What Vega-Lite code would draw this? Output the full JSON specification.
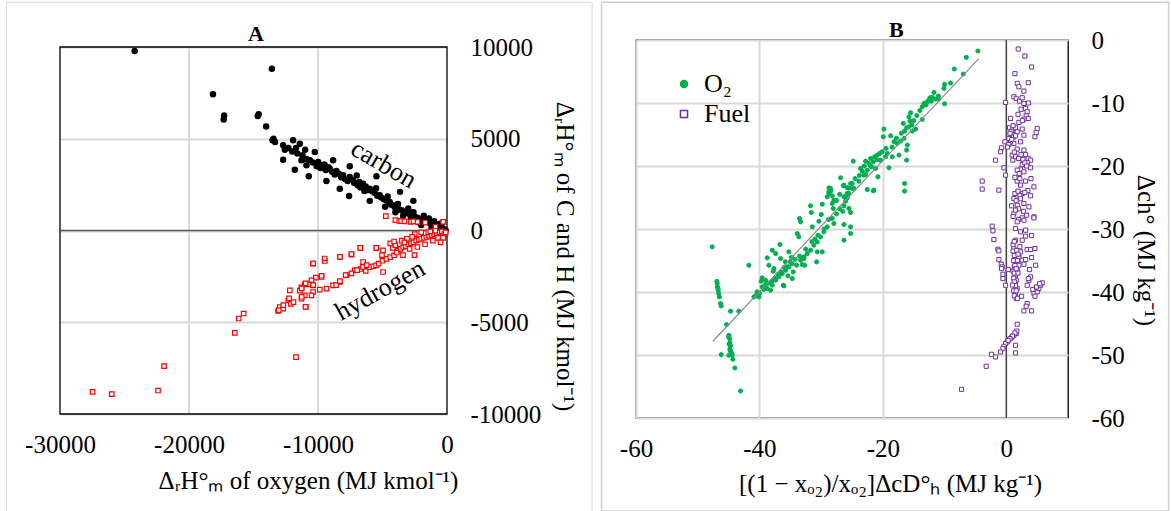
{
"$schema":"https://vega.github.io/schema/vega-lite/v6.json",
"background":"white",
"padding":{"left":6,"top":0,"right":0,"bottom":0},
"spacing":7,
"resolve":{"legend":{"fill":"independent","stroke":"independent","shape":"independent"}},
"config":{
"font":"Liberation Serif",
"view":{"stroke":"black","strokeWidth":1.3},
"axis":{"labelFont":"Liberation Serif","titleFont":"Liberation Serif","labelFontSize":25,"titleFontSize":25,"labelColor":"#000","titleColor":"#000","titleFontWeight":"normal","ticks":false,"domain":false,"grid":true,"gridColor":"#d9d9d9","gridWidth":2,"gridOpacity":1,"labelFlush":false,"labelOverlap":false,"labelBound":false}
},
"datasets":{
"carbon":[{"x":-24216,"y":9783},{"x":-13575,"y":8821},{"x":-18140,"y":7423},{"x":-17280,"y":6262},{"x":-17310,"y":6046},{"x":-14672,"y":6244},{"x":-14600,"y":6330},{"x":-14020,"y":5663},{"x":-13525,"y":4916},{"x":-13325,"y":4824},{"x":-13450,"y":5000},{"x":-12703,"y":4643},{"x":-11929,"y":4916},{"x":-12572,"y":4404},{"x":-11410,"y":4731},{"x":-12703,"y":3859},{"x":-11797,"y":3314},{"x":-10713,"y":2954},{"x":-10248,"y":4278},{"x":-11281,"y":3826},{"x":-10894,"y":3553},{"x":-10635,"y":3826},{"x":-9990,"y":3733},{"x":-9345,"y":2698},{"x":-8830,"y":3826},{"x":-8311,"y":2278},{"x":-7590,"y":1880},{"x":-7537,"y":3499},{"x":-5469,"y":2954},{"x":-9605,"y":3553},{"x":-9086,"y":3368},{"x":-8567,"y":3243},{"x":-8056,"y":3008},{"x":-7537,"y":2916},{"x":-7018,"y":2551},{"x":-6506,"y":2551},{"x":-5988,"y":2278},{"x":-5213,"y":1918},{"x":-4439,"y":1553},{"x":-4051,"y":1281},{"x":-12300,"y":4500},{"x":-12000,"y":4300},{"x":-11600,"y":4200},{"x":-11200,"y":4100},{"x":-10900,"y":3900},{"x":-10400,"y":3700},{"x":-10100,"y":3500},{"x":-9800,"y":3400},{"x":-9400,"y":3300},{"x":-9200,"y":3450},{"x":-8900,"y":3200},{"x":-8700,"y":3050},{"x":-8400,"y":3100},{"x":-8200,"y":2900},{"x":-7900,"y":2800},{"x":-7700,"y":2700},{"x":-7300,"y":2750},{"x":-7200,"y":2600},{"x":-6900,"y":2450},{"x":-6700,"y":2350},{"x":-6300,"y":2400},{"x":-6100,"y":2200},{"x":-5800,"y":2150},{"x":-5600,"y":2050},{"x":-5400,"y":1900},{"x":-5100,"y":1800},{"x":-4900,"y":1700},{"x":-4700,"y":1650},{"x":-4500,"y":1450},{"x":-4300,"y":1400},{"x":-4100,"y":1350},{"x":-3900,"y":1200},{"x":-3700,"y":1150},{"x":-3500,"y":1100},{"x":-3300,"y":1000},{"x":-3100,"y":950},{"x":-2900,"y":900},{"x":-2700,"y":800},{"x":-2500,"y":750},{"x":-2300,"y":700},{"x":-2100,"y":600},{"x":-1900,"y":550},{"x":-1700,"y":500},{"x":-1500,"y":450},{"x":-1300,"y":400},{"x":-1100,"y":300},{"x":-900,"y":250},{"x":-700,"y":200},{"x":-500,"y":150},{"x":-300,"y":100},{"x":-100,"y":0},{"x":-200,"y":50},{"x":-3646,"y":2105},{"x":-2608,"y":1615},{"x":-5987,"y":1615},{"x":-4800,"y":1300},{"x":-4000,"y":1000},{"x":-3400,"y":800},{"x":-2800,"y":700},{"x":-2600,"y":1000},{"x":-2200,"y":450},{"x":-1800,"y":800},{"x":-1400,"y":650},{"x":-1000,"y":500},{"x":-600,"y":350},{"x":-400,"y":400},{"x":-1200,"y":150},{"x":-2000,"y":300},{"x":-3000,"y":1200},{"x":-3800,"y":1450},{"x":-4600,"y":1850},{"x":-6400,"y":2150},{"x":-6800,"y":2650},{"x":-5500,"y":2300},{"x":-9500,"y":3600},{"x":-11000,"y":4400},{"x":-11700,"y":4500},{"x":-7000,"y":3000}],
"hydrogen":[{"x":-27471,"y":-8791},{"x":-25986,"y":-8916},{"x":-22403,"y":-8720},{"x":-21929,"y":-7390},{"x":-11707,"y":-6900},{"x":-16447,"y":-5575},{"x":-16150,"y":-4796},{"x":-15763,"y":-4524},{"x":-4742,"y":780},{"x":-4001,"y":563},{"x":-3700,"y":520},{"x":-3557,"y":508},{"x":-3300,"y":500},{"x":-2816,"y":472},{"x":-2600,"y":500},{"x":-2282,"y":472},{"x":-1690,"y":436},{"x":-889,"y":200},{"x":-296,"y":472},{"x":-10379,"y":-1809},{"x":-9473,"y":-1662},{"x":-8311,"y":-1444},{"x":-7405,"y":-1318},{"x":-6708,"y":-954},{"x":-5469,"y":-954},{"x":-4957,"y":-1082},{"x":-4400,"y":-700},{"x":-4200,"y":-950},{"x":-4000,"y":-800},{"x":-6506,"y":-1717},{"x":-6700,"y":-2100},{"x":-6300,"y":-2200},{"x":-6000,"y":-2000},{"x":-5700,"y":-1950},{"x":-5500,"y":-1900},{"x":-5300,"y":-1800},{"x":-5000,"y":-1650},{"x":-4700,"y":-1550},{"x":-4400,"y":-1450},{"x":-4100,"y":-1350},{"x":-4957,"y":-2262},{"x":-7157,"y":-2169},{"x":-7793,"y":-2442},{"x":-8311,"y":-2806},{"x":-8830,"y":-2987},{"x":-9345,"y":-3172},{"x":-9861,"y":-3226},{"x":-10379,"y":-3352},{"x":-9729,"y":-2534},{"x":-10170,"y":-2572},{"x":-10503,"y":-2714},{"x":-10635,"y":-2932},{"x":-11023,"y":-2932},{"x":-11281,"y":-3100},{"x":-11410,"y":-3280},{"x":-10379,"y":-2987},{"x":-10508,"y":-3532},{"x":-11023,"y":-3532},{"x":-11281,"y":-3717},{"x":-12185,"y":-3259},{"x":-12300,"y":-3800},{"x":-12100,"y":-4000},{"x":-11900,"y":-3900},{"x":-12960,"y":-4169},{"x":-12703,"y":-4262},{"x":-13090,"y":-4387},{"x":-10945,"y":-4169},{"x":-13042,"y":-4338},{"x":-12686,"y":-4066},{"x":-12241,"y":-3703},{"x":-11263,"y":-3612},{"x":-10967,"y":-4156},{"x":-11263,"y":-3158},{"x":-10967,"y":-2886},{"x":-10374,"y":-2977},{"x":-9722,"y":-2468},{"x":-9485,"y":-1525},{"x":-10374,"y":-1797},{"x":-8596,"y":-2977},{"x":-8299,"y":-2759},{"x":-7855,"y":-2432},{"x":-7410,"y":-2341},{"x":-6966,"y":-2160},{"x":-6521,"y":-1978},{"x":-6225,"y":-1888},{"x":-8299,"y":-1434},{"x":-7410,"y":-1289},{"x":-6728,"y":-944},{"x":-5483,"y":-944},{"x":-5039,"y":-1343},{"x":-3409,"y":-1343},{"x":-2519,"y":-1343},{"x":-3800,"y":-1100},{"x":-3600,"y":-1000},{"x":-3400,"y":-900},{"x":-3200,"y":-850},{"x":-3000,"y":-750},{"x":-2800,"y":-700},{"x":-2600,"y":-650},{"x":-2400,"y":-550},{"x":-2200,"y":-500},{"x":-2000,"y":-450},{"x":-1800,"y":-400},{"x":-1600,"y":-350},{"x":-1400,"y":-300},{"x":-1200,"y":-250},{"x":-1000,"y":-200},{"x":-800,"y":-150},{"x":-600,"y":-100},{"x":-400,"y":-50},{"x":-200,"y":-200},{"x":-300,"y":-400},{"x":-100,"y":-100},{"x":-1500,"y":-100},{"x":-1800,"y":-150},{"x":-2500,"y":-200},{"x":-3100,"y":-450},{"x":-3500,"y":-550},{"x":-4100,"y":-600},{"x":-2900,"y":-1000},{"x":-2300,"y":-900},{"x":-1700,"y":-750},{"x":-1100,"y":-550},{"x":-700,"y":-400},{"x":-500,"y":-650},{"x":-1300,"y":-50},{"x":-900,"y":0},{"x":-2700,"y":-350},{"x":-3300,"y":-650},{"x":-3900,"y":-1200},{"x":-2000,"y":-100}],
"panelB":[{"g":"O₂","x":-4.6,"y":-1.75},{"g":"O₂","x":-6.48,"y":-2.76},{"g":"O₂","x":-8.43,"y":-4.61},{"g":"O₂","x":-6.97,"y":-5.41},{"g":"O₂","x":-9.02,"y":-6.84},{"g":"O₂","x":-10.0,"y":-7.05},{"g":"O₂","x":-10.1,"y":-7.68},{"g":"O₂","x":-11.72,"y":-8.32},{"g":"O₂","x":-12.37,"y":-9.17},{"g":"O₂","x":-12.53,"y":-9.54},{"g":"O₂","x":-12.15,"y":-9.7},{"g":"O₂","x":-11.45,"y":-9.38},{"g":"O₂","x":-10.97,"y":-9.38},{"g":"O₂","x":-10.0,"y":-10.12},{"g":"O₂","x":-13.34,"y":-10.07},{"g":"O₂","x":-13.61,"y":-10.6},{"g":"O₂","x":-12.8,"y":-9.8},{"g":"O₂","x":-15.5,"y":-11.55},{"g":"O₂","x":-15.77,"y":-12.18},{"g":"O₂","x":-15.61,"y":-12.87},{"g":"O₂","x":-16.69,"y":-13.24},{"g":"O₂","x":-16.15,"y":-13.93},{"g":"O₂","x":-15.23,"y":-14.46},{"g":"O₂","x":-16.48,"y":-14.46},{"g":"O₂","x":-14.69,"y":-14.14},{"g":"O₂","x":-13.61,"y":-12.61},{"g":"O₂","x":-19.82,"y":-14.14},{"g":"O₂","x":-19.93,"y":-15.36},{"g":"O₂","x":-18.74,"y":-15.2},{"g":"O₂","x":-18.2,"y":-16.16},{"g":"O₂","x":-17.66,"y":-16.42},{"g":"O₂","x":-17.12,"y":-16.05},{"g":"O₂","x":-16.58,"y":-15.63},{"g":"O₂","x":-16.04,"y":-16.68},{"g":"O₂","x":-16.15,"y":-17.48},{"g":"O₂","x":-16.15,"y":-19.07},{"g":"O₂","x":-17.39,"y":-18.27},{"g":"O₂","x":-20.1,"y":-17.74},{"g":"O₂","x":-19.28,"y":-18.01},{"g":"O₂","x":-19.55,"y":-18.54},{"g":"O₂","x":-18.47,"y":-18.54},{"g":"O₂","x":-20.36,"y":-19.07},{"g":"O₂","x":-19.01,"y":-20.29},{"g":"O₂","x":-20.9,"y":-18.27},{"g":"O₂","x":-21.34,"y":-18.54},{"g":"O₂","x":-21.98,"y":-18.8},{"g":"O₂","x":-21.55,"y":-19.33},{"g":"O₂","x":-22.26,"y":-19.6},{"g":"O₂","x":-22.8,"y":-19.23},{"g":"O₂","x":-21.82,"y":-20.13},{"g":"O₂","x":-21.17,"y":-20.39},{"g":"O₂","x":-22.53,"y":-20.66},{"g":"O₂","x":-23.34,"y":-20.82},{"g":"O₂","x":-23.61,"y":-20.39},{"g":"O₂","x":-22.8,"y":-21.35},{"g":"O₂","x":-20.8,"y":-21.72},{"g":"O₂","x":-24.8,"y":-19.23},{"g":"O₂","x":-16.48,"y":-22.77},{"g":"O₂","x":-16.48,"y":-23.99},{"g":"O₂","x":-22.53,"y":-23.73},{"g":"O₂","x":-21.55,"y":-23.94},{"g":"O₂","x":-26.85,"y":-21.87},{"g":"O₂","x":-26.42,"y":-23.15},{"g":"O₂","x":-25.23,"y":-22.77},{"g":"O₂","x":-24.96,"y":-23.57},{"g":"O₂","x":-25.77,"y":-24.36},{"g":"O₂","x":-28.47,"y":-23.57},{"g":"O₂","x":-28.74,"y":-24.1},{"g":"O₂","x":-28.2,"y":-24.73},{"g":"O₂","x":-26.31,"y":-24.89},{"g":"O₂","x":-11.0,"y":-8.9},{"g":"O₂","x":-12.0,"y":-9.1},{"g":"O₂","x":-13.0,"y":-10.3},{"g":"O₂","x":-14.0,"y":-11.2},{"g":"O₂","x":-14.5,"y":-12.0},{"g":"O₂","x":-15.0,"y":-12.8},{"g":"O₂","x":-15.3,"y":-13.5},{"g":"O₂","x":-15.8,"y":-13.8},{"g":"O₂","x":-17.0,"y":-14.8},{"g":"O₂","x":-17.8,"y":-15.6},{"g":"O₂","x":-18.5,"y":-17.0},{"g":"O₂","x":-19.5,"y":-17.2},{"g":"O₂","x":-20.5,"y":-18.0},{"g":"O₂","x":-21.0,"y":-19.0},{"g":"O₂","x":-22.0,"y":-20.0},{"g":"O₂","x":-23.0,"y":-20.0},{"g":"O₂","x":-23.8,"y":-21.5},{"g":"O₂","x":-24.5,"y":-22.0},{"g":"O₂","x":-25.5,"y":-23.5},{"g":"O₂","x":-27.0,"y":-24.5},{"g":"O₂","x":-27.5,"y":-25.5},{"g":"O₂","x":-47.65,"y":-32.83},{"g":"O₂","x":-41.71,"y":-35.75},{"g":"O₂","x":-46.84,"y":-38.66},{"g":"O₂","x":-46.8,"y":-39.19},{"g":"O₂","x":-46.7,"y":-39.72},{"g":"O₂","x":-46.6,"y":-40.25},{"g":"O₂","x":-46.5,"y":-40.78},{"g":"O₂","x":-46.3,"y":-41.84},{"g":"O₂","x":-46.2,"y":-42.21},{"g":"O₂","x":-44.68,"y":-43.05},{"g":"O₂","x":-43.33,"y":-43.05},{"g":"O₂","x":-45.33,"y":-45.17},{"g":"O₂","x":-44.95,"y":-46.87},{"g":"O₂","x":-44.84,"y":-47.4},{"g":"O₂","x":-44.79,"y":-48.03},{"g":"O₂","x":-44.68,"y":-48.56},{"g":"O₂","x":-44.79,"y":-49.09},{"g":"O₂","x":-44.62,"y":-49.51},{"g":"O₂","x":-44.95,"y":-50.04},{"g":"O₂","x":-44.41,"y":-50.04},{"g":"O₂","x":-44.3,"y":-50.68},{"g":"O₂","x":-46.19,"y":-49.94},{"g":"O₂","x":-43.98,"y":-52.06},{"g":"O₂","x":-43.06,"y":-55.71},{"g":"O₂","x":-46.9,"y":-38.3},{"g":"O₂","x":-46.7,"y":-39.4},{"g":"O₂","x":-45.0,"y":-47.1},{"g":"O₂","x":-44.9,"y":-48.3},{"g":"O₂","x":-44.7,"y":-49.3},{"g":"O₂","x":-44.5,"y":-49.8},{"g":"O₂","x":-40.9,"y":-40.78},{"g":"O₂","x":-40.09,"y":-40.78},{"g":"O₂","x":-40.36,"y":-39.98},{"g":"O₂","x":-39.55,"y":-39.19},{"g":"O₂","x":-39.71,"y":-38.29},{"g":"O₂","x":-39.55,"y":-37.76},{"g":"O₂","x":-39.01,"y":-38.13},{"g":"O₂","x":-38.74,"y":-39.45},{"g":"O₂","x":-38.2,"y":-39.72},{"g":"O₂","x":-37.92,"y":-38.92},{"g":"O₂","x":-37.38,"y":-38.13},{"g":"O₂","x":-36.84,"y":-37.6},{"g":"O₂","x":-36.14,"y":-38.92},{"g":"O₂","x":-36.3,"y":-37.07},{"g":"O₂","x":-35.76,"y":-36.54},{"g":"O₂","x":-35.22,"y":-36.01},{"g":"O₂","x":-34.68,"y":-35.48},{"g":"O₂","x":-34.52,"y":-36.81},{"g":"O₂","x":-33.98,"y":-35.75},{"g":"O₂","x":-33.33,"y":-34.95},{"g":"O₂","x":-32.79,"y":-34.42},{"g":"O₂","x":-32.68,"y":-35.75},{"g":"O₂","x":-32.25,"y":-33.89},{"g":"O₂","x":-31.71,"y":-33.36},{"g":"O₂","x":-31.17,"y":-32.57},{"g":"O₂","x":-30.63,"y":-32.04},{"g":"O₂","x":-30.09,"y":-31.25},{"g":"O₂","x":-29.55,"y":-30.45},{"g":"O₂","x":-29.01,"y":-29.66},{"g":"O₂","x":-38.74,"y":-34.58},{"g":"O₂","x":-37.92,"y":-33.36},{"g":"O₂","x":-36.68,"y":-32.46},{"g":"O₂","x":-37.38,"y":-33.89},{"g":"O₂","x":-38.47,"y":-35.75},{"g":"O₂","x":-37.65,"y":-36.28},{"g":"O₂","x":-37.76,"y":-36.7},{"g":"O₂","x":-36.57,"y":-34.69},{"g":"O₂","x":-35.22,"y":-33.63},{"g":"O₂","x":-33.87,"y":-30.72},{"g":"O₂","x":-33.6,"y":-31.25},{"g":"O₂","x":-33.49,"y":-28.33},{"g":"O₂","x":-33.33,"y":-28.86},{"g":"O₂","x":-31.71,"y":-26.32},{"g":"O₂","x":-31.6,"y":-27.38},{"g":"O₂","x":-31.44,"y":-29.66},{"g":"O₂","x":-30.36,"y":-28.76},{"g":"O₂","x":-29.98,"y":-27.7},{"g":"O₂","x":-29.82,"y":-26.06},{"g":"O₂","x":-29.01,"y":-24.89},{"g":"O₂","x":-28.74,"y":-24.36},{"g":"O₂","x":-28.47,"y":-23.99},{"g":"O₂","x":-28.74,"y":-23.46},{"g":"O₂","x":-28.2,"y":-25.95},{"g":"O₂","x":-28.04,"y":-26.74},{"g":"O₂","x":-27.93,"y":-25.42},{"g":"O₂","x":-28.2,"y":-28.33},{"g":"O₂","x":-27.93,"y":-29.13},{"g":"O₂","x":-26.31,"y":-23.04},{"g":"O₂","x":-25.77,"y":-23.46},{"g":"O₂","x":-25.5,"y":-24.36},{"g":"O₂","x":-25.77,"y":-25.05},{"g":"O₂","x":-26.04,"y":-25.58},{"g":"O₂","x":-26.31,"y":-26.32},{"g":"O₂","x":-25.5,"y":-26.74},{"g":"O₂","x":-25.23,"y":-27.38},{"g":"O₂","x":-24.96,"y":-22.77},{"g":"O₂","x":-24.69,"y":-23.57},{"g":"O₂","x":-26.31,"y":-29.29},{"g":"O₂","x":-25.23,"y":-29.66},{"g":"O₂","x":-25.23,"y":-30.72},{"g":"O₂","x":-26.31,"y":-31.77},{"g":"O₂","x":-30.63,"y":-33.63},{"g":"O₂","x":-29.82,"y":-33.63},{"g":"O₂","x":-30.74,"y":-35.22},{"g":"O₂","x":-32.79,"y":-34.69},{"g":"O₂","x":-33.06,"y":-35.64},{"g":"O₂","x":-35.38,"y":-37.44},{"g":"O₂","x":-34.68,"y":-37.87},{"g":"O₂","x":-36.03,"y":-39.03},{"g":"O₂","x":-21.45,"y":-23.83},{"g":"O₂","x":-23.88,"y":-22.4},{"g":"O₂","x":-23.07,"y":-21.45},{"g":"O₂","x":-39.3,"y":-39.6},{"g":"O₂","x":-38.5,"y":-38.6},{"g":"O₂","x":-37.5,"y":-37.8},{"g":"O₂","x":-36.5,"y":-36.8},{"g":"O₂","x":-35.5,"y":-36.0},{"g":"O₂","x":-35.0,"y":-35.2},{"g":"O₂","x":-34.2,"y":-34.8},{"g":"O₂","x":-33.5,"y":-34.3},{"g":"O₂","x":-32.5,"y":-33.2},{"g":"O₂","x":-31.5,"y":-32.0},{"g":"O₂","x":-31.0,"y":-31.6},{"g":"O₂","x":-30.5,"y":-31.0},{"g":"O₂","x":-29.5,"y":-30.0},{"g":"O₂","x":-28.8,"y":-28.5},{"g":"O₂","x":-27.5,"y":-27.6},{"g":"O₂","x":-27.0,"y":-26.8},{"g":"O₂","x":-26.5,"y":-27.2},{"g":"O₂","x":-35.8,"y":-35.2},{"g":"O₂","x":-34.8,"y":-34.5},{"g":"O₂","x":-36.0,"y":-36.1},{"g":"O₂","x":-37.0,"y":-37.2},{"g":"O₂","x":-38.0,"y":-38.3},{"g":"O₂","x":-39.0,"y":-38.8},{"g":"O₂","x":-40.0,"y":-40.2},{"g":"O₂","x":-40.5,"y":-40.5},
{"g":"Fuel","x":1.94,"y":-1.44},{"g":"Fuel","x":3.02,"y":-2.55},{"g":"Fuel","x":4.1,"y":-4.29},{"g":"Fuel","x":1.4,"y":-5.35},{"g":"Fuel","x":1.77,"y":-6.89},{"g":"Fuel","x":2.04,"y":-7.42},{"g":"Fuel","x":3.56,"y":-6.78},{"g":"Fuel","x":2.86,"y":-8.11},{"g":"Fuel","x":-0.12,"y":-9.91},{"g":"Fuel","x":1.23,"y":-9.01},{"g":"Fuel","x":1.61,"y":-9.27},{"g":"Fuel","x":2.15,"y":-9.7},{"g":"Fuel","x":2.58,"y":-9.17},{"g":"Fuel","x":2.86,"y":-10.07},{"g":"Fuel","x":3.13,"y":-10.86},{"g":"Fuel","x":3.39,"y":-11.39},{"g":"Fuel","x":3.23,"y":-12.03},{"g":"Fuel","x":3.56,"y":-12.45},{"g":"Fuel","x":2.86,"y":-12.56},{"g":"Fuel","x":2.04,"y":-13.08},{"g":"Fuel","x":0.69,"y":-12.45},{"g":"Fuel","x":0.53,"y":-13.93},{"g":"Fuel","x":1.07,"y":-14.14},{"g":"Fuel","x":1.5,"y":-13.93},{"g":"Fuel","x":1.77,"y":-14.57},{"g":"Fuel","x":2.58,"y":-14.14},{"g":"Fuel","x":2.86,"y":-15.1},{"g":"Fuel","x":2.31,"y":-16.16},{"g":"Fuel","x":1.23,"y":-16.42},{"g":"Fuel","x":0.69,"y":-16.16},{"g":"Fuel","x":0.42,"y":-15.63},{"g":"Fuel","x":-0.22,"y":-16.16},{"g":"Fuel","x":-0.76,"y":-17.11},{"g":"Fuel","x":-0.93,"y":-17.74},{"g":"Fuel","x":-1.74,"y":-19.07},{"g":"Fuel","x":1.77,"y":-17.32},{"g":"Fuel","x":2.86,"y":-17.48},{"g":"Fuel","x":3.13,"y":-18.17},{"g":"Fuel","x":3.56,"y":-18.8},{"g":"Fuel","x":3.94,"y":-19.07},{"g":"Fuel","x":3.39,"y":-19.44},{"g":"Fuel","x":2.58,"y":-19.76},{"g":"Fuel","x":2.31,"y":-20.5},{"g":"Fuel","x":2.86,"y":-20.92},{"g":"Fuel","x":3.94,"y":-20.29},{"g":"Fuel","x":1.77,"y":-20.66},{"g":"Fuel","x":1.07,"y":-19.07},{"g":"Fuel","x":0.96,"y":-18.27},{"g":"Fuel","x":1.5,"y":-18.54},{"g":"Fuel","x":4.85,"y":-14.67},{"g":"Fuel","x":4.64,"y":-15.36},{"g":"Fuel","x":5.02,"y":-14.04},{"g":"Fuel","x":-0.12,"y":-21.45},{"g":"Fuel","x":-0.39,"y":-20.29},{"g":"Fuel","x":-3.9,"y":-22.4},{"g":"Fuel","x":-3.9,"y":-23.67},{"g":"Fuel","x":-1.2,"y":-23.83},{"g":"Fuel","x":1.77,"y":-22.4},{"g":"Fuel","x":2.31,"y":-23.04},{"g":"Fuel","x":3.13,"y":-22.4},{"g":"Fuel","x":4.48,"y":-23.31},{"g":"Fuel","x":1.4,"y":-24.36},{"g":"Fuel","x":2.58,"y":-24.36},{"g":"Fuel","x":1.23,"y":-25.16},{"g":"Fuel","x":1.77,"y":-26.22},{"g":"Fuel","x":2.86,"y":-25.95},{"g":"Fuel","x":3.94,"y":-24.73},{"g":"Fuel","x":3.67,"y":-26.48},{"g":"Fuel","x":1.23,"y":-27.54},{"g":"Fuel","x":2.58,"y":-28.23},{"g":"Fuel","x":4.48,"y":-28.07},{"g":"Fuel","x":0.86,"y":-26.32},{"g":"Fuel","x":0.8,"y":-14.5},{"g":"Fuel","x":1.0,"y":-15.0},{"g":"Fuel","x":1.2,"y":-15.4},{"g":"Fuel","x":0.6,"y":-14.8},{"g":"Fuel","x":0.9,"y":-15.8},{"g":"Fuel","x":1.5,"y":-15.2},{"g":"Fuel","x":1.1,"y":-13.6},{"g":"Fuel","x":0.4,"y":-16.6},{"g":"Fuel","x":0.2,"y":-17.0},{"g":"Fuel","x":1.3,"y":-17.8},{"g":"Fuel","x":2.0,"y":-18.8},{"g":"Fuel","x":2.4,"y":-18.2},{"g":"Fuel","x":2.7,"y":-19.0},{"g":"Fuel","x":3.0,"y":-19.5},{"g":"Fuel","x":3.3,"y":-20.0},{"g":"Fuel","x":2.1,"y":-21.2},{"g":"Fuel","x":1.4,"y":-21.8},{"g":"Fuel","x":2.2,"y":-22.0},{"g":"Fuel","x":3.5,"y":-23.9},{"g":"Fuel","x":1.9,"y":-24.0},{"g":"Fuel","x":2.2,"y":-24.7},{"g":"Fuel","x":3.0,"y":-24.2},{"g":"Fuel","x":1.6,"y":-25.5},{"g":"Fuel","x":2.3,"y":-25.2},{"g":"Fuel","x":2.0,"y":-26.8},{"g":"Fuel","x":1.5,"y":-27.0},{"g":"Fuel","x":2.8,"y":-27.2},{"g":"Fuel","x":3.3,"y":-27.8},{"g":"Fuel","x":1.1,"y":-28.0},{"g":"Fuel","x":2.0,"y":-28.5},{"g":"Fuel","x":4.0,"y":-22.0},{"g":"Fuel","x":3.6,"y":-10.0},{"g":"Fuel","x":2.4,"y":-11.0},{"g":"Fuel","x":1.9,"y":-11.8},{"g":"Fuel","x":2.6,"y":-12.8},{"g":"Fuel","x":-2.28,"y":-29.55},{"g":"Fuel","x":-2.17,"y":-30.29},{"g":"Fuel","x":-2.01,"y":-31.67},{"g":"Fuel","x":-1.36,"y":-33.21},{"g":"Fuel","x":-1.2,"y":-33.47},{"g":"Fuel","x":-1.2,"y":-34.85},{"g":"Fuel","x":-0.82,"y":-35.59},{"g":"Fuel","x":-0.66,"y":-36.01},{"g":"Fuel","x":-0.76,"y":-36.28},{"g":"Fuel","x":-0.55,"y":-37.18},{"g":"Fuel","x":-0.55,"y":-37.87},{"g":"Fuel","x":-0.12,"y":-38.93},{"g":"Fuel","x":0.32,"y":-36.44},{"g":"Fuel","x":1.23,"y":-33.1},{"g":"Fuel","x":1.4,"y":-33.89},{"g":"Fuel","x":1.5,"y":-34.69},{"g":"Fuel","x":1.61,"y":-35.48},{"g":"Fuel","x":1.29,"y":-36.01},{"g":"Fuel","x":1.77,"y":-36.54},{"g":"Fuel","x":1.5,"y":-37.34},{"g":"Fuel","x":1.61,"y":-38.13},{"g":"Fuel","x":1.4,"y":-38.66},{"g":"Fuel","x":1.77,"y":-39.45},{"g":"Fuel","x":1.5,"y":-40.25},{"g":"Fuel","x":1.61,"y":-41.04},{"g":"Fuel","x":2.04,"y":-34.42},{"g":"Fuel","x":2.31,"y":-33.63},{"g":"Fuel","x":2.58,"y":-34.95},{"g":"Fuel","x":2.04,"y":-35.75},{"g":"Fuel","x":2.48,"y":-40.67},{"g":"Fuel","x":1.77,"y":-28.86},{"g":"Fuel","x":2.86,"y":-28.6},{"g":"Fuel","x":4.48,"y":-28.23},{"g":"Fuel","x":1.5,"y":-29.92},{"g":"Fuel","x":2.31,"y":-30.45},{"g":"Fuel","x":3.13,"y":-30.19},{"g":"Fuel","x":3.13,"y":-31.14},{"g":"Fuel","x":4.1,"y":-31.04},{"g":"Fuel","x":2.58,"y":-31.78},{"g":"Fuel","x":1.5,"y":-31.78},{"g":"Fuel","x":3.39,"y":-33.26},{"g":"Fuel","x":3.94,"y":-33.26},{"g":"Fuel","x":4.64,"y":-33.1},{"g":"Fuel","x":4.1,"y":-34.53},{"g":"Fuel","x":3.13,"y":-34.85},{"g":"Fuel","x":2.86,"y":-35.59},{"g":"Fuel","x":4.75,"y":-35.75},{"g":"Fuel","x":3.77,"y":-36.44},{"g":"Fuel","x":3.94,"y":-37.6},{"g":"Fuel","x":3.67,"y":-38.13},{"g":"Fuel","x":3.39,"y":-38.93},{"g":"Fuel","x":3.56,"y":-37.87},{"g":"Fuel","x":4.48,"y":-40.25},{"g":"Fuel","x":5.02,"y":-39.98},{"g":"Fuel","x":5.29,"y":-39.45},{"g":"Fuel","x":5.56,"y":-38.93},{"g":"Fuel","x":5.83,"y":-38.55},{"g":"Fuel","x":4.64,"y":-40.67},{"g":"Fuel","x":3.39,"y":-41.84},{"g":"Fuel","x":3.23,"y":-42.26},{"g":"Fuel","x":2.86,"y":-43.0},{"g":"Fuel","x":4.1,"y":-43.0},{"g":"Fuel","x":1.77,"y":-45.12},{"g":"Fuel","x":1.61,"y":-46.6},{"g":"Fuel","x":1.23,"y":-46.87},{"g":"Fuel","x":0.86,"y":-47.24},{"g":"Fuel","x":0.42,"y":-47.56},{"g":"Fuel","x":0.15,"y":-47.93},{"g":"Fuel","x":-0.12,"y":-48.19},{"g":"Fuel","x":-0.39,"y":-48.62},{"g":"Fuel","x":-0.55,"y":-48.99},{"g":"Fuel","x":1.5,"y":-48.46},{"g":"Fuel","x":1.5,"y":-49.67},{"g":"Fuel","x":-0.93,"y":-49.52},{"g":"Fuel","x":-1.74,"y":-50.31},{"g":"Fuel","x":-2.39,"y":-49.89},{"g":"Fuel","x":-3.25,"y":-51.79},{"g":"Fuel","x":-7.25,"y":-55.45},{"g":"Fuel","x":1.1,"y":-33.5},{"g":"Fuel","x":1.3,"y":-34.2},{"g":"Fuel","x":1.2,"y":-35.0},{"g":"Fuel","x":1.4,"y":-35.8},{"g":"Fuel","x":1.1,"y":-36.7},{"g":"Fuel","x":1.3,"y":-37.0},{"g":"Fuel","x":1.2,"y":-37.8},{"g":"Fuel","x":1.3,"y":-38.4},{"g":"Fuel","x":1.5,"y":-39.0},{"g":"Fuel","x":1.2,"y":-39.8},{"g":"Fuel","x":1.3,"y":-40.6},{"g":"Fuel","x":1.8,"y":-41.0},{"g":"Fuel","x":1.7,"y":-33.4},{"g":"Fuel","x":1.9,"y":-34.0},{"g":"Fuel","x":1.8,"y":-35.0},{"g":"Fuel","x":1.9,"y":-37.0},{"g":"Fuel","x":1.1,"y":-32.5},{"g":"Fuel","x":1.3,"y":-32.0},{"g":"Fuel","x":2.2,"y":-32.8},{"g":"Fuel","x":1.6,"y":-36.3},{"g":"Fuel","x":1.0,"y":-38.9},{"g":"Fuel","x":1.6,"y":-39.8},{"g":"Fuel","x":4.3,"y":-39.6},{"g":"Fuel","x":4.9,"y":-39.2},{"g":"Fuel","x":5.4,"y":-38.7},{"g":"Fuel","x":1.7,"y":-46.2},{"g":"Fuel","x":1.4,"y":-46.5},{"g":"Fuel","x":1.0,"y":-47.0},{"g":"Fuel","x":0.6,"y":-47.4},{"g":"Fuel","x":0.3,"y":-47.7}]
},
"hconcat":[
{
"width":387,"height":374,
"view":{"stroke":null},
"encoding":{
"x":{"field":"x","type":"quantitative","scale":{"domain":[-30000,0],"nice":false,"zero":false},"axis":{"values":[-30000,-20000,-10000,0],"grid":false,"labelExpr":"''+datum.value","labelPadding":18,"title":"ΔᵣH°ₘ of oxygen  (MJ kmol⁻¹)","titleX":248,"titleY":66,"titleAlign":"center","titleBaseline":"middle","titleAngle":0}},
"y":{"field":"y","type":"quantitative","scale":{"domain":[-10000,10381.5],"nice":false,"zero":false},"axis":{"orient":"right","values":[-10000,-5000,0,5000,10000],"labelExpr":"''+datum.value","labelPadding":23,"title":"ΔᵣH°ₘ of C and H (MJ kmol⁻¹)","titleAngle":90,"titleX":117,"titleY":216,"titleAlign":"center","titleBaseline":"middle"}}
},
"layer":[
{"data":{"values":[{"x":-34144,"x2":11247,"y":12441,"y2":-15324}]},"mark":{"type":"rect","filled":false,"stroke":"#d9d9d9","strokeWidth":1},"encoding":{"x2":{"field":"x2"},"y2":{"field":"y2"}}},
{"data":{"values":[{"x":-20000,"y":-10000,"y2":10000},{"x":-10000,"y":-10000,"y2":10000}]},"mark":{"type":"rule","color":"#d9d9d9","strokeWidth":2},"encoding":{"y2":{"field":"y2"}}},
{"data":{"values":[{"x":-30000,"x2":0,"y":-10000,"y2":10000}]},"mark":{"type":"rect","filled":false,"stroke":"#000","strokeWidth":1.3},"encoding":{"x2":{"field":"x2"},"y2":{"field":"y2"}}},
{"data":{"values":[{"x":-30000,"x2":0,"y":0}]},"mark":{"type":"rule","color":"#595959","strokeWidth":1.6},"encoding":{"x2":{"field":"x2"}}},
{"data":{"name":"carbon"},"mark":{"type":"point","shape":"circle","filled":true,"color":"#000","size":42,"opacity":1}},
{"data":{"name":"hydrogen"},"mark":{"type":"point","shape":"square","fill":"#fff","stroke":"#ff0000","strokeWidth":1.2,"size":20,"opacity":1}},
{"data":{"values":[{"t":"carbon","x":-4903,"y":3608}]},"mark":{"type":"text","angle":30,"fontSize":26,"font":"Liberation Serif","color":"#000"},"encoding":{"text":{"field":"t"}}},
{"data":{"values":[{"t":"hydrogen","x":-5197,"y":-3259}]},"mark":{"type":"text","angle":-29,"fontSize":26,"font":"Liberation Serif","color":"#000"},"encoding":{"text":{"field":"t"}}},
{"data":{"values":[{"t":"A","x":-14818,"y":10328}]},"mark":{"type":"text","fontSize":22,"fontWeight":"bold","font":"Liberation Serif","color":"#000","baseline":"alphabetic"},"encoding":{"text":{"field":"t"}}}
]
},
{
"width":432,"height":378,
"encoding":{
"x":{"field":"x","type":"quantitative","scale":{"domain":[-60,10],"nice":false,"zero":false},"axis":{"values":[-60,-40,-20,0],"labelExpr":"''+datum.value","labelPadding":18,"title":"[(1 − xₒ₂)/xₒ₂]ΔcD°ₕ (MJ kg⁻¹)","titleX":254,"titleY":65,"titleAlign":"center","titleBaseline":"middle","titleAngle":0}},
"y":{"field":"y","type":"quantitative","scale":{"domain":[-60,0],"nice":false,"zero":false},"axis":{"orient":"right","values":[0,-10,-20,-30,-40,-50,-60],"labelExpr":"''+datum.value","labelPadding":23,"title":"Δch° (MJ kg⁻¹)","titleAngle":90,"titleX":77,"titleY":210,"titleAlign":"center","titleBaseline":"middle"}}
},
"layer":[
{"data":{"values":[{"x":-65.58,"x2":26.3,"y":6.0,"y2":-74.77}]},"mark":{"type":"rect","filled":false,"stroke":"#d0d0d0","strokeWidth":1.5},"encoding":{"x2":{"field":"x2"},"y2":{"field":"y2"}}},
{"data":{"values":[{"x":0,"y":0,"y2":-60}]},"mark":{"type":"rule","color":"#3a3a3a","strokeWidth":1.3},"encoding":{"y2":{"field":"y2"}}},
{"data":{"name":"panelB"},"mark":{"type":"point","strokeWidth":1,"size":17,"opacity":1},
"encoding":{
"shape":{"field":"g","type":"nominal","scale":{"domain":["O₂","Fuel"],"range":["circle","square"]},"legend":{"title":null,"orient":"top-left","offset":31,"symbolOffset":4,"labelFont":"Liberation Serif","labelFontSize":26,"labelColor":"#000","symbolSize":50,"symbolStrokeWidth":1.5,"labelOffset":7,"rowPadding":4,"padding":0}},
"fill":{"field":"g","type":"nominal","scale":{"domain":["O₂","Fuel"],"range":["#00B050","#ffffff"]},"legend":{"title":null,"orient":"top-left","offset":31,"symbolOffset":4,"labelFont":"Liberation Serif","labelFontSize":26,"labelColor":"#000","symbolSize":50,"symbolStrokeWidth":1.5,"labelOffset":7,"rowPadding":4,"padding":0}},
"stroke":{"field":"g","type":"nominal","scale":{"domain":["O₂","Fuel"],"range":["#00B050","#7030A0"]},"legend":{"title":null,"orient":"top-left","offset":31,"symbolOffset":4,"labelFont":"Liberation Serif","labelFontSize":26,"labelColor":"#000","symbolSize":50,"symbolStrokeWidth":1.5,"labelOffset":7,"rowPadding":4,"padding":0}}
}},
{"data":{"values":[{"x":-47.54,"y":-47.82},{"x":-4.49,"y":-3.0}]},"mark":{"type":"line","color":"#8c8c8c","strokeWidth":1.2}},
{"data":{"values":[{"t":"B","x":-17.83,"y":0.52}]},"mark":{"type":"text","fontSize":22,"fontWeight":"bold","font":"Liberation Serif","color":"#000","baseline":"alphabetic"},"encoding":{"text":{"field":"t"}}}
]
}
]
}
